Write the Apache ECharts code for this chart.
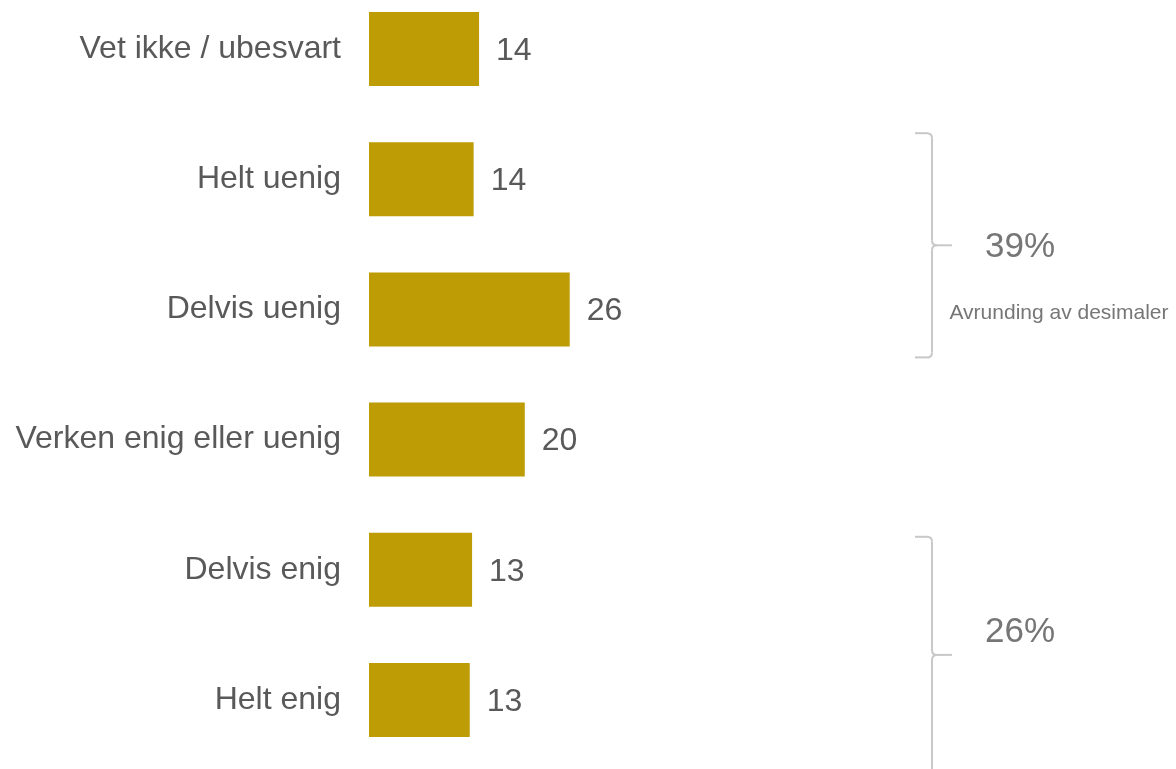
<!DOCTYPE html>
<html>
<head>
<meta charset="utf-8">
<script src="https://cdn.jsdelivr.net/npm/echarts@6/dist/echarts.min.js"></script>
<style>
  html, body { margin: 0; padding: 0; background: #fff; }
  #chart { width: 1176px; height: 769px; }
</style>
</head>
<body>
<div id="chart"></div>
<script>
// --- data (top to bottom) ---
const categories = [
  'Vet ikke / ubesvart',
  'Helt uenig',
  'Delvis uenig',
  'Verken enig eller uenig',
  'Delvis enig',
  'Helt enig'
];
const shares     = [14.2, 13.5, 25.9, 20.1, 13.3, 13.0];   // bar lengths, percent
const shownLabel = ['14', '14', '26', '20', '13', '13'];    // rounded labels as printed

// bracket groups: [first category, last category, total text, note]
const groups = [
  ['Helt uenig', 'Delvis uenig', '39%', 'Avrunding av desimaler'],
  ['Delvis enig', 'Helt enig', '26%', '']
];

const GOLD  = '#BE9C05';
const TEXT  = '#595959';
const GREY  = '#767676';
const FONT  = 'Liberation Sans, Arial, sans-serif';

const chart = echarts.init(document.getElementById('chart'), null, { renderer: 'canvas' });

chart.setOption({
  animation: false,
  backgroundColor: '#fff',
  // boundaryGap off: first/last category sit right on the grid edges
  grid: { left: 369, right: 32, top: 49, bottom: 69, containLabel: false },
  xAxis: {
    type: 'value',
    min: 0,
    max: 100,
    show: false
  },
  yAxis: {
    type: 'category',
    data: categories,
    inverse: true,
    boundaryGap: false,
    axisLine: { show: false },
    axisTick: { show: false },
    splitLine: { show: false },
    axisLabel: {
      margin: 28,
      color: TEXT,
      fontSize: 32,
      fontFamily: FONT,
      padding: [5, 0, 0, 0]
    }
  },
  series: [{
    type: 'bar',
    data: shares,
    barWidth: 74,
    itemStyle: { color: GOLD },
    label: {
      show: true,
      position: 'right',
      distance: 17,
      offset: [0, 2],
      color: TEXT,
      fontSize: 32,
      fontFamily: FONT,
      formatter: p => shownLabel[p.dataIndex]
    }
  }]
});

// --- brackets with group totals, placed from the category axis ---
function drawBrackets() {
  const x0 = 915, xv = 932, xt = 952, r = 5;
  const line = { stroke: '#C8C8C8', lineWidth: 2, fill: null };
  const elements = [];
  groups.forEach(([first, last, total, note], i) => {
    const yA = chart.convertToPixel({ yAxisIndex: 0 }, first);
    const yB = chart.convertToPixel({ yAxisIndex: 0 }, last);
    // top bracket sits a bit outside its bars, the lower one runs off the page
    const yTop = i === 0 ? yA - 46 : yA - 33;
    const yBot = i === 0 ? yB + 48 : yB + 73;
    const yMid = (yTop + yBot) / 2;
    const segs = [
      [x0, yTop, xv - r, yTop],
      [xv, yTop + r, xv, yMid - r],
      [xv + r, yMid, xt, yMid],
      [xv, yMid + r, xv, yBot - r],
      [xv - r, yBot, x0, yBot]
    ];
    segs.forEach(s => elements.push({
      type: 'line', shape: { x1: s[0], y1: s[1], x2: s[2], y2: s[3] }, style: line
    }));
    const curves = [
      [xv - r, yTop, xv, yTop, xv, yTop + r],
      [xv, yMid - r, xv, yMid, xv + r, yMid],
      [xv + r, yMid, xv, yMid, xv, yMid + r],
      [xv, yBot - r, xv, yBot, xv - r, yBot]
    ];
    curves.forEach(c => elements.push({
      type: 'bezierCurve',
      shape: { x1: c[0], y1: c[1], cpx1: c[2], cpy1: c[3], x2: c[4], y2: c[5] },
      style: line
    }));
    elements.push({
      type: 'text',
      x: 1020,
      y: i === 0 ? yMid + 2 : yMid - 23,
      style: {
        text: total, fill: GREY, font: `35px ${FONT}`,
        align: 'center', verticalAlign: 'middle'
      }
    });
    if (note) {
      elements.push({
        type: 'text',
        x: 1059,
        y: yMid + 68,
        style: {
          text: note, fill: GREY, font: `21px ${FONT}`,
          align: 'center', verticalAlign: 'middle'
        }
      });
    }
  });
  chart.setOption({ graphic: { elements } });
}
drawBrackets();
</script>
</body>
</html>
